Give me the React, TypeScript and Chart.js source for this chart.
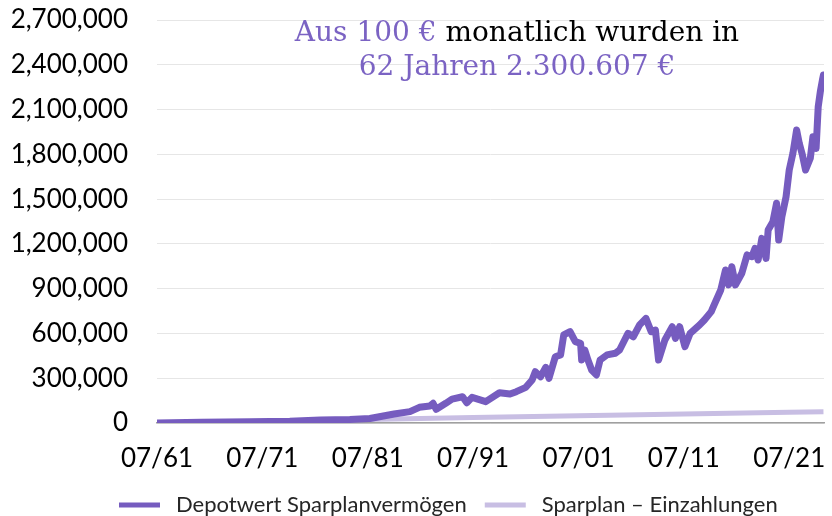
import React, { useEffect, useRef } from 'react';
import { Chart, registerables } from 'chart.js';

Chart.register(...registerables);

// ---------- data ----------
const SERIES_LABELS = ['Depotwert Sparplanvermögen', 'Sparplan – Einzahlungen'];

const DEPOT_YEARS = [
  1961.5, 1965.7, 1970.4, 1974.1, 1977.0, 1979.8, 1981.7, 1982.6, 1984.0, 1985.5,
  1986.4, 1987.4, 1987.7, 1988.0, 1988.9, 1989.5, 1990.5, 1990.9, 1991.4, 1992.7,
  1994.0, 1995.0, 1995.6, 1996.5, 1997.1, 1997.4, 1997.9, 1998.4, 1998.7, 1999.3,
  1999.8, 2000.1, 2000.7, 2001.2, 2001.7, 2001.8, 2002.1, 2002.4, 2002.75, 2003.2,
  2003.55, 2004.2, 2005.0, 2005.4, 2006.2, 2006.7, 2007.3, 2007.9, 2008.4, 2008.8,
  2009.1, 2009.7, 2010.4, 2010.7, 2011.1, 2011.6, 2012.1, 2013.0, 2013.45, 2014.1,
  2014.3, 2015.0, 2015.45, 2015.75, 2016.05, 2016.4, 2017.0, 2017.5, 2017.95, 2018.25,
  2018.55, 2018.9, 2019.3, 2019.5, 2019.95, 2020.3, 2020.5, 2020.8, 2021.2, 2021.5,
  2021.85, 2022.2, 2022.45, 2022.75, 2023.05, 2023.5, 2023.75, 2024.05, 2024.25, 2024.45,
  2024.65, 2024.75,
];
const DEPOT_VALUES = [
  100, 5000, 9000, 12000, 20000, 24000, 30000, 42000, 60000, 76000,
  105000, 114000, 132000, 92000, 132000, 160000, 176000, 136000, 172000, 143000,
  203000, 194000, 210000, 239000, 288000, 344000, 310000, 373000, 299000, 444000,
  456000, 590000, 612000, 545000, 534000, 422000, 489000, 422000, 355000, 322000,
  422000, 456000, 467000, 489000, 601000, 578000, 657000, 701000, 612000, 623000,
  422000, 556000, 645000, 567000, 645000, 511000, 601000, 657000, 690000, 746000,
  779000, 891000, 1025000, 925000, 1047000, 925000, 1003000, 1126000, 1114000, 1170000,
  1092000, 1237000, 1103000, 1293000, 1349000, 1472000, 1226000, 1382000, 1516000, 1695000,
  1807000, 1963000, 1874000, 1796000, 1695000, 1774000, 1918000, 1840000, 2119000, 2220000,
  2298000, 2332000,
];

const DEPOSIT_YEARS = [1961.5, 1971.5, 1981.5, 1991.5, 2001.5, 2011.5, 2021.5, 2024.75];
const DEPOSIT_VALUES = [100, 12100, 24100, 36100, 48100, 60100, 72100, 76000];

const X_TICK_YEARS = [1961.5, 1971.5, 1981.5, 1991.5, 2001.5, 2011.5, 2021.5];
const X_TICK_LABELS = ['07/61', '07/71', '07/81', '07/91', '07/01', '07/11', '07/21'];
const X_MIN = 1961.5;
const X_MAX = 2024.8;

const Y_MAX = 2700000;
const Y_STEP = 300000;

const TITLE_LINE1 = [
  { text: 'Aus 100 € ', accent: true },
  { text: 'monatlich wurden in', accent: false },
];
const TITLE_LINE2 = '62 Jahren 2.300.607 €';

// ---------- style ----------
const PURPLE = '#765CBF';
const LIGHT = '#C8BEE3';
const TITLE_PURPLE = '#7B63C3';
const TICK_FONT = { family: 'Lato', size: 26 };

const overlayPlugin = {
  id: 'overlay',
  afterDraw(chart: any) {
    const ctx = chart.ctx as CanvasRenderingContext2D;
    ctx.save();
    // title
    ctx.font = '28px "DejaVu Serif"';
    ctx.textBaseline = 'alphabetic';
    ctx.textAlign = 'left';
    const cx = 517;
    const w1 = TITLE_LINE1.reduce((s, p) => s + ctx.measureText(p.text).width, 0);
    let x = cx - w1 / 2;
    for (const p of TITLE_LINE1) {
      ctx.fillStyle = p.accent ? TITLE_PURPLE : '#000000';
      ctx.fillText(p.text, x, 41);
      x += ctx.measureText(p.text).width;
    }
    ctx.fillStyle = TITLE_PURPLE;
    ctx.textAlign = 'center';
    ctx.fillText(TITLE_LINE2, cx, 75);

    // legend
    ctx.font = '22px Lato';
    ctx.textAlign = 'left';
    ctx.textBaseline = 'middle';
    let lx = 119;
    const ly = 505;
    chart.data.datasets.forEach((ds: any) => {
      ctx.fillStyle = ds.borderColor;
      ctx.fillRect(lx, ly - 2.5, 41, 5);
      lx += 41 + 16;
      ctx.fillStyle = '#262626';
      ctx.fillText(ds.label, lx, ly);
      lx += ctx.measureText(ds.label).width + 18;
    });
    ctx.restore();
  },
};

export default function App() {
  const canvasRef = useRef<HTMLCanvasElement | null>(null);

  useEffect(() => {
    document.body.style.margin = '0';
    const canvas = canvasRef.current;
    if (!canvas) return;
    const chart = new Chart(canvas, {
      type: 'line',
      data: {
        datasets: [
          {
            label: SERIES_LABELS[0],
            data: DEPOT_YEARS.map((x, i) => ({ x, y: DEPOT_VALUES[i] })),
            borderColor: PURPLE,
            backgroundColor: PURPLE,
            borderWidth: 7,
            pointRadius: 0,
            tension: 0,
            borderJoinStyle: 'round',
            borderCapStyle: 'round',
          },
          {
            label: SERIES_LABELS[1],
            data: DEPOSIT_YEARS.map((x, i) => ({ x, y: DEPOSIT_VALUES[i] })),
            borderColor: LIGHT,
            backgroundColor: LIGHT,
            borderWidth: 5,
            pointRadius: 0,
            tension: 0,
          },
        ],
      },
      options: {
        animation: false,
        responsive: false,
        devicePixelRatio: 1,
        layout: { padding: { top: 20, right: 8, bottom: 33, left: 0 } },
        plugins: {
          legend: { display: false },
          tooltip: { enabled: false },
          title: { display: false },
        },
        scales: {
          x: {
            type: 'linear',
            min: X_MIN,
            max: X_MAX,
            grid: {
              display: true,
              drawOnChartArea: false,
              drawTicks: true,
              tickLength: 20,
              tickColor: 'rgba(0,0,0,0)',
              color: 'rgba(0,0,0,0)',
            },
            border: { display: true, color: '#A0A0A0', width: 1.5 },
            afterBuildTicks: (axis: any) => {
              axis.ticks = X_TICK_YEARS.map((v) => ({ value: v }));
            },
            afterFit: (axis: any) => {
              axis.height = 60;
            },
            ticks: {
              autoSkip: false,
              maxRotation: 0,
              padding: 0,
              color: '#000000',
              font: TICK_FONT,
              callback: (_v: any, i: number) => X_TICK_LABELS[i] ?? '',
            },
          },
          y: {
            min: 0,
            max: Y_MAX,
            grid: {
              color: '#E6E6E6',
              lineWidth: 1,
              drawTicks: true,
              tickLength: 29,
              tickColor: 'rgba(0,0,0,0)',
            },
            border: { display: false },
            afterFit: (axis: any) => {
              axis.width = 157;
            },
            ticks: {
              stepSize: Y_STEP,
              padding: 0,
              color: '#000000',
              font: TICK_FONT,
              callback: (v: any) => Number(v).toLocaleString('en-US'),
            },
          },
        },
      },
      plugins: [overlayPlugin],
    } as any);
    return () => chart.destroy();
  }, []);

  return (
    <div style={{ position: 'absolute', left: 0, top: 0, width: 832, height: 516, background: '#fff' }}>
      <canvas ref={canvasRef} width={832} height={516} style={{ display: 'block' }} />
    </div>
  );
}
